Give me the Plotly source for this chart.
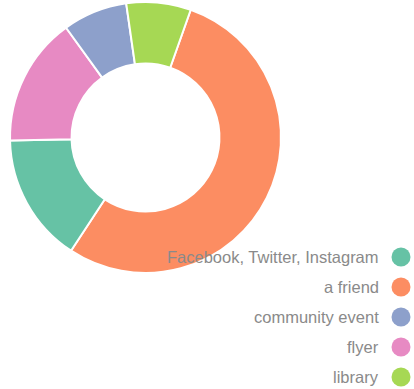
import plotly.graph_objects as go

labels = ["Facebook, Twitter, Instagram", "a friend", "community event", "flyer", "library"]
values = [2, 7, 1, 2, 1]
colors = ["#66c2a5", "#fc8d62", "#8da0cb", "#e78ac3", "#a6d854"]

W, H = 414, 389
cx, cy, r = 145.5, 137.5, 135.5

fig = go.Figure()
fig.add_trace(go.Pie(
    labels=labels, values=values,
    marker=dict(colors=colors, line=dict(color="white", width=2)),
    hole=0.546, sort=True, direction="clockwise", rotation=19.5,
    textinfo="none", hoverinfo="label+value", showlegend=False,
    domain=dict(x=[(cx - r) / W, (cx + r) / W], y=[1 - (cy + r) / H, 1 - (cy - r) / H]),
))

idx = list(range(len(labels)))
fig.add_trace(go.Scatter(
    x=[0] * len(labels), y=idx, mode="markers",
    marker=dict(color=colors, size=19, symbol="circle"),
    hoverinfo="skip", showlegend=False,
))
for i, lab in zip(idx, labels):
    fig.add_annotation(
        x=-20, y=i, xref="x", yref="y", text=lab, showarrow=False,
        xanchor="right", yanchor="middle",
        font=dict(family="Liberation Sans, Arial", size=16.5, color="#8a8a8a"),
    )

# legend geometry: marker centres at x=401, first at y=257, step 30
fig.update_xaxes(visible=False, range=[-401, W - 401], domain=[0, 1], fixedrange=True)
fig.update_yaxes(visible=False, range=[(H - 257) / 30, -257 / 30], domain=[0, 1], fixedrange=True)
fig.update_layout(
    width=W, height=H, margin=dict(l=0, r=0, t=0, b=0),
    paper_bgcolor="white", plot_bgcolor="rgba(0,0,0,0)",
)
fig.write_html("out.html")
